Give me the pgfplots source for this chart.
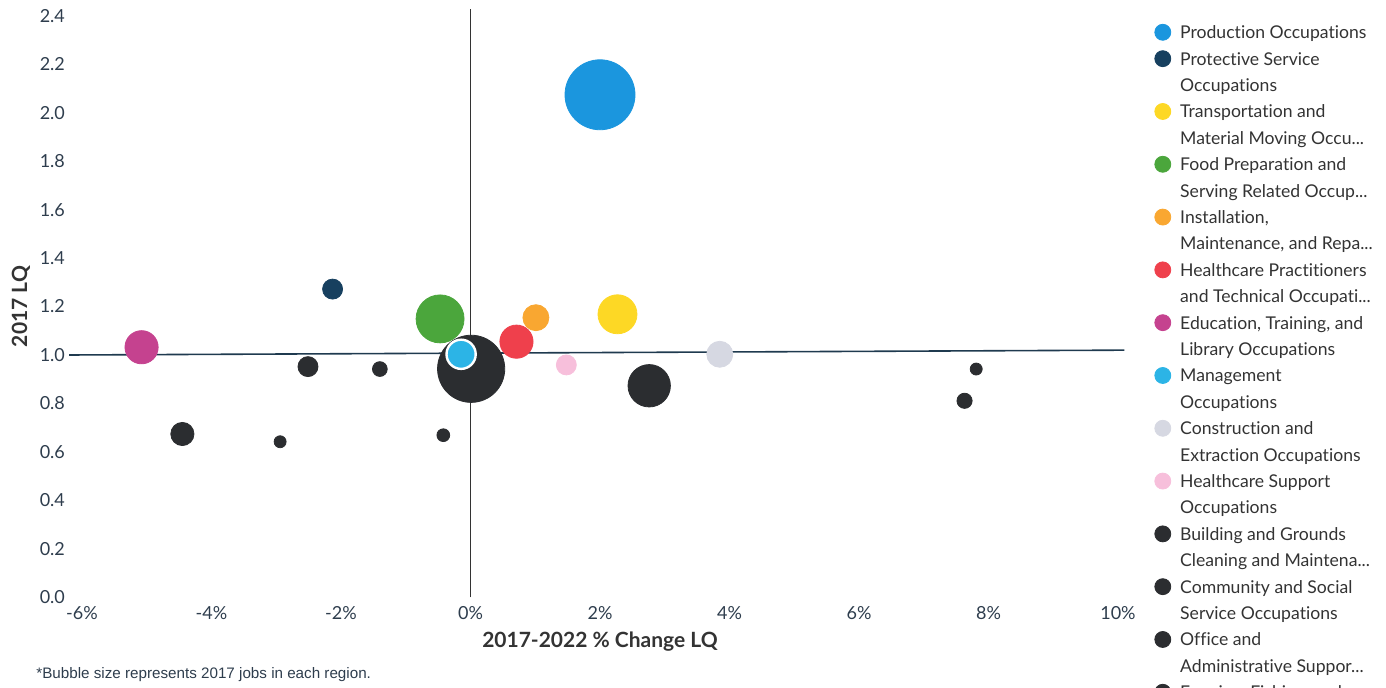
\documentclass[border=0pt]{standalone}
\usepackage{pgfplots}
\pgfplotsset{compat=1.18}
\usepackage{fontspec}
\setmainfont{Lato}[Ligatures={NoCommon}]
\newfontfamily\arialfont{Liberation Sans}
\definecolor{cProd}{HTML}{1B96DE}
\definecolor{cProt}{HTML}{17405F}
\definecolor{cTrans}{HTML}{FDD825}
\definecolor{cFood}{HTML}{4BA63C}
\definecolor{cInst}{HTML}{F9A731}
\definecolor{cHPr}{HTML}{EF404C}
\definecolor{cEdu}{HTML}{C5428F}
\definecolor{cMgmt}{HTML}{2CB4E6}
\definecolor{cCons}{HTML}{D6D8E2}
\definecolor{cHSup}{HTML}{F7BFDB}
\definecolor{cBlk}{HTML}{2B2D30}
\definecolor{cTick}{HTML}{2E3D4D}
\definecolor{cText}{HTML}{333333}
\definecolor{cLine}{HTML}{1F3A4F}
\begin{document}
\begin{tikzpicture}
\useasboundingbox (-41pt,-45.35pt) rectangle (652pt,298.65pt);
\begin{axis}[
  at={(0pt,0pt)}, anchor=south west,
  scale only axis, width=518pt, height=290.75pt,
  xmin=-6, xmax=10, ymin=0, ymax=2.4,
  clip=false,
  axis lines*=left, axis line style={draw=none}, tick style={draw=none},
  xtick={-6,-4,...,10},
  xticklabels={-6\%,-4\%,-2\%,0\%,2\%,4\%,6\%,8\%,10\%},
  ytick={0,0.2,0.4,0.6,0.8,1.0,1.2,1.4,1.6,1.8,2.0,2.2,2.4},
  yticklabels={0.0,0.2,0.4,0.6,0.8,1.0,1.2,1.4,1.6,1.8,2.0,2.2,2.4},
  ticklabel style={font=\fontsize{9}{10}\selectfont, text=cTick},
  xticklabel style={yshift=-1pt},
  yticklabel style={xshift=-5pt},
  xlabel={2017-2022 \% Change LQ},
  ylabel={2017 LQ},
  xlabel style={at={(axis description cs:0.5,-0.0769)}, anchor=center, font=\fontsize{10.5}{12}\selectfont\bfseries, text=cText},
  ylabel style={at={(axis description cs:-0.0589,0.5)}, anchor=center, font=\fontsize{10.5}{12}\selectfont\bfseries, text=cText},
  legend image code/.code={\fill[#1] (0pt,3.2pt) circle (4pt);},
  legend cell align=left,
  legend style={at={(axis description cs:1.03475,0.994)}, anchor=north west, draw=none, fill=none, inner sep=0pt, row sep=0pt, column sep=0pt,
    font=\fontsize{8.8}{11}\selectfont, text=cText,
    nodes={anchor=base west, text height=9pt, text depth=3.2pt, inner ysep=0.5pt, inner xsep=4.5pt}},
]
% black bubbles
\addplot[only marks, mark=*, color=cBlk, mark size=16.8pt, forget plot] coordinates {(0.01,0.943)};
\addplot[only marks, mark=*, color=cBlk, mark size=10.6pt, forget plot] coordinates {(2.76,0.873)};
\addplot[only marks, mark=*, color=cBlk, mark size=5pt, forget plot] coordinates {(-2.51,0.952)};
\addplot[only marks, mark=*, color=cBlk, mark size=3.7pt, forget plot] coordinates {(-1.40,0.942)};
\addplot[only marks, mark=*, color=cBlk, mark size=5.8pt, forget plot] coordinates {(-4.45,0.674)};
\addplot[only marks, mark=*, color=cBlk, mark size=3pt, forget plot] coordinates {(-2.94,0.642)};
\addplot[only marks, mark=*, color=cBlk, mark size=3.2pt, forget plot] coordinates {(-0.42,0.669)};
\addplot[only marks, mark=*, color=cBlk, mark size=3pt, forget plot] coordinates {(7.81,0.942)};
\addplot[only marks, mark=*, color=cBlk, mark size=3.8pt, forget plot] coordinates {(7.63,0.811)};
% management
\addplot[only marks, mark=*, color=cMgmt, mark size=7.3pt, mark options={draw=white, line width=1.2pt}, forget plot] coordinates {(-0.145,1.003)};
% crosshair lines
\addplot[cLine, line width=0.8pt, forget plot] coordinates {(-6.2,1.0) (10.1,1.02)};
\addplot[cText, line width=0.8pt, forget plot] coordinates {(0,0) (0,2.43)};
% colored bubbles
\addplot[only marks, mark=*, color=cProd, mark size=17.5pt, forget plot] coordinates {(2.0,2.074)};
\addplot[only marks, mark=*, color=cProt, mark size=5pt, forget plot] coordinates {(-2.13,1.272)};
\addplot[only marks, mark=*, color=cTrans, mark size=9.75pt, forget plot] coordinates {(2.27,1.168)};
\addplot[only marks, mark=*, color=cFood, mark size=12pt, forget plot] coordinates {(-0.47,1.149)};
\addplot[only marks, mark=*, color=cInst, mark size=6.5pt, forget plot] coordinates {(1.01,1.154)};
\addplot[only marks, mark=*, color=cHPr, mark size=8.3pt, forget plot] coordinates {(0.71,1.055)};
\addplot[only marks, mark=*, color=cEdu, mark size=8.3pt, forget plot] coordinates {(-5.08,1.032)};
\addplot[only marks, mark=*, color=cCons, mark size=6.5pt, forget plot] coordinates {(3.85,1.003)};
\addplot[only marks, mark=*, color=cHSup, mark size=5pt, forget plot] coordinates {(1.48,0.959)};
% legend
\addlegendimage{only marks, mark=*, color=cProd}\addlegendentry{Production Occupations}
\addlegendimage{only marks, mark=*, color=cProt}\addlegendentry{Protective Service}
\addlegendimage{empty legend}\addlegendentry{Occupations}
\addlegendimage{only marks, mark=*, color=cTrans}\addlegendentry{Transportation and}
\addlegendimage{empty legend}\addlegendentry{Material Moving Occu...}
\addlegendimage{only marks, mark=*, color=cFood}\addlegendentry{Food Preparation and}
\addlegendimage{empty legend}\addlegendentry{Serving Related Occup...}
\addlegendimage{only marks, mark=*, color=cInst}\addlegendentry{Installation,}
\addlegendimage{empty legend}\addlegendentry{Maintenance, and Repa...}
\addlegendimage{only marks, mark=*, color=cHPr}\addlegendentry{Healthcare Practitioners}
\addlegendimage{empty legend}\addlegendentry{and Technical Occupati...}
\addlegendimage{only marks, mark=*, color=cEdu}\addlegendentry{Education, Training, and}
\addlegendimage{empty legend}\addlegendentry{Library Occupations}
\addlegendimage{only marks, mark=*, color=cMgmt}\addlegendentry{Management}
\addlegendimage{empty legend}\addlegendentry{Occupations}
\addlegendimage{only marks, mark=*, color=cCons}\addlegendentry{Construction and}
\addlegendimage{empty legend}\addlegendentry{Extraction Occupations}
\addlegendimage{only marks, mark=*, color=cHSup}\addlegendentry{Healthcare Support}
\addlegendimage{empty legend}\addlegendentry{Occupations}
\addlegendimage{only marks, mark=*, color=cBlk}\addlegendentry{Building and Grounds}
\addlegendimage{empty legend}\addlegendentry{Cleaning and Maintena...}
\addlegendimage{only marks, mark=*, color=cBlk}\addlegendentry{Community and Social}
\addlegendimage{empty legend}\addlegendentry{Service Occupations}
\addlegendimage{only marks, mark=*, color=cBlk}\addlegendentry{Office and}
\addlegendimage{empty legend}\addlegendentry{Administrative Suppor...}
\addlegendimage{only marks, mark=*, color=cBlk}\addlegendentry{Farming, Fishing, and}
\addlegendimage{empty legend}\addlegendentry{Forestry Occupations}
\end{axis}
\node[anchor=west, font=\arialfont\fontsize{7.6}{9}\selectfont, text=cTick, inner sep=0pt] at (-23pt,-38.85pt) {*Bubble size represents 2017 jobs in each region.};
\end{tikzpicture}
\end{document}
